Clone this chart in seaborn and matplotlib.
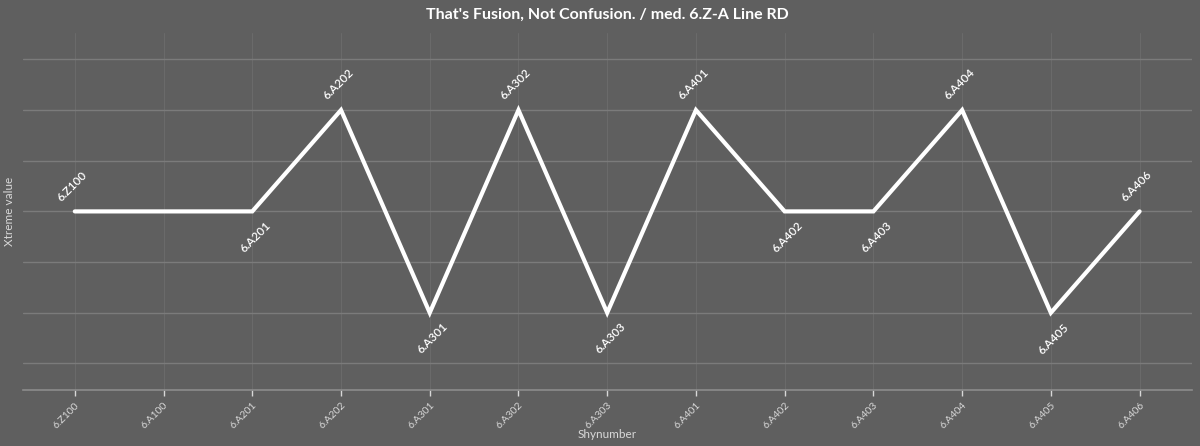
import numpy as np
import pandas as pd
import matplotlib
matplotlib.use("Agg")
import matplotlib.pyplot as plt
import seaborn as sns

# Chart data
categories = ["6.Z100", "6.A100", "6.A201", "6.A202", "6.A301", "6.A302", "6.A303",
              "6.A401", "6.A402", "6.A403", "6.A404", "6.A405", "6.A406"]
values = [2, np.nan, 2, 3, 1, 3, 1, 3, 2, 2, 3, 1, 2]
y_ticks = [0.5, 1.0, 1.5, 2.0, 2.5, 3.0, 3.5]


def main():
    bg = "#5f5f5f"
    sns.set_theme(style="darkgrid")
    plt.rcParams["font.family"] = ["Lato", "DejaVu Sans"]

    df = pd.DataFrame({"pos": range(len(categories)), "name": categories, "value": values})
    pts = df.dropna()

    fig, ax = plt.subplots(figsize=(12, 4.46), dpi=100)
    fig.patch.set_facecolor(bg)
    ax.set_facecolor(bg)
    fig.subplots_adjust(left=0.019, right=0.993, bottom=0.126, top=0.926)

    sns.lineplot(data=pts, x="pos", y="value", ax=ax, color="white", linewidth=3,
                 solid_capstyle="round", solid_joinstyle="miter")

    # point labels: above when rising (or first), below otherwise
    prev = None
    for _, row in pts.iterrows():
        above = prev is None or row["value"] > prev
        ax.annotate(row["name"], (row["pos"], row["value"]),
                    xytext=(-2, 6) if above else (2, -6), textcoords="offset points",
                    ha="center", va="bottom" if above else "top", rotation=45,
                    color="white", fontsize=8.5, fontweight="semibold")
        prev = row["value"]

    ax.set_xlim(-0.586, len(categories) - 1 + 0.586)
    ax.set_ylim(0.24, 3.76)
    ax.set_xticks(range(len(categories)))
    ax.set_xticklabels(categories, rotation=45, ha="right", rotation_mode="anchor")
    ax.set_yticks(y_ticks)
    ax.set_yticklabels([])

    ax.grid(axis="y", color="#7b7b7b", linewidth=1)
    ax.grid(axis="x", color="#6a6a6a", linewidth=0.8)
    for side in ["top", "right", "left"]:
        ax.spines[side].set_visible(False)
    ax.spines["bottom"].set_visible(True)
    ax.spines["bottom"].set_color("#8c8c8c")
    ax.spines["bottom"].set_linewidth(1.2)

    ax.tick_params(axis="x", colors="#d8d8d8", labelsize=7.5, length=4, width=1,
                   direction="out", bottom=True, pad=4)
    ax.tick_params(axis="y", length=0)

    ax.set_xlabel("Shynumber", color="#d8d8d8", fontsize=8.5, labelpad=-1)
    ax.set_ylabel("Xtreme value", color="#d8d8d8", fontsize=8.5, labelpad=2)
    ax.set_title("That's Fusion, Not Confusion. / med. 6.Z-A Line RD",
                 color="white", fontsize=11.5, fontweight="bold", pad=10)

    fig.savefig("out.png", dpi=100, facecolor=bg)


if __name__ == "__main__":
    main()
